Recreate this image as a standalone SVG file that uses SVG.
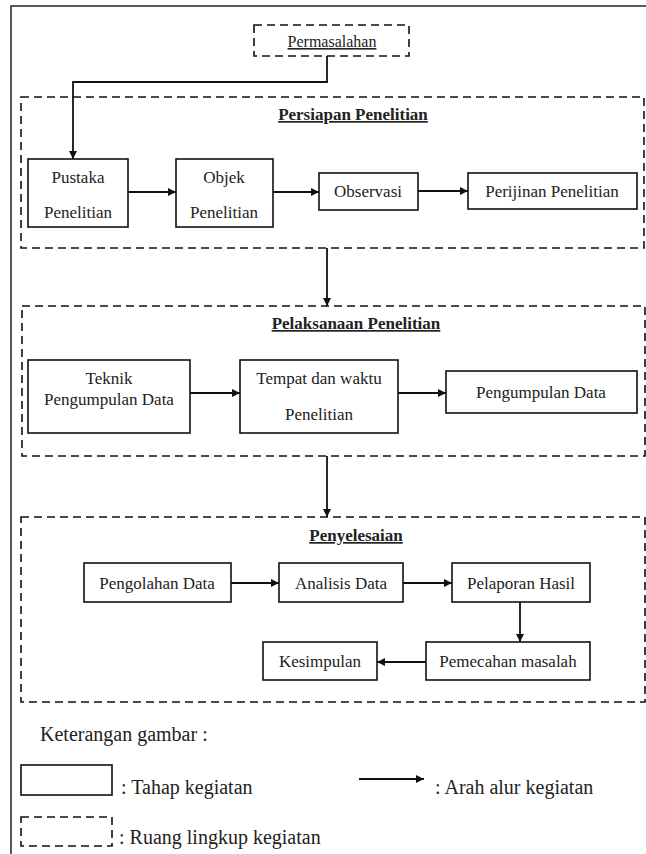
<svg xmlns="http://www.w3.org/2000/svg" width="646" height="854" viewBox="0 0 646 854">
<defs>
<marker id="ah" viewBox="0 0 10 10" refX="10" refY="5" markerWidth="9" markerHeight="8" markerUnits="userSpaceOnUse" orient="auto">
<path d="M0,0 L10,5 L0,10 z" fill="#111"/>
</marker>
</defs>
<style>
text{font-family:"Liberation Serif","Times New Roman",serif;fill:#222;font-size:17px}
.c{text-anchor:middle}
.h{font-weight:bold;text-decoration:underline}
.box{fill:#fff;stroke:#111;stroke-width:1.6}
.scope{fill:none;stroke:#111;stroke-width:1.6;stroke-dasharray:8 5}
.con{fill:none;stroke:#111;stroke-width:1.8;marker-end:url(#ah)}
.lg{font-size:20px}
</style>
<rect x="0" y="0" width="646" height="854" fill="#fff"/>
<path d="M11,860 V6 H650" fill="none" stroke="#222" stroke-width="1.5"/>

<g id="scope-persiapan">
<rect class="scope" x="21" y="97" width="623" height="151"/>
<text class="c h" x="353" y="120">Persiapan Penelitian</text>
</g>
<g id="scope-pelaksanaan">
<rect class="scope" x="22" y="306" width="623" height="150"/>
<text class="c h" x="356" y="329">Pelaksanaan Penelitian</text>
</g>
<g id="scope-penyelesaian">
<rect class="scope" x="21" y="517" width="624" height="185"/>
<text class="c h" x="356" y="541">Penyelesaian</text>
</g>

<g id="connectors">
<path class="con" d="M327,56 V82 H73 V159"/>
<path class="con" d="M128,192 H176"/>
<path class="con" d="M273,192 H319"/>
<path class="con" d="M418,191 H468"/>
<path class="con" d="M327,248 V306"/>
<path class="con" d="M190,393 H240"/>
<path class="con" d="M398,393 H446"/>
<path class="con" d="M327,456 V517"/>
<path class="con" d="M231,583 H279"/>
<path class="con" d="M403,583 H452"/>
<path class="con" d="M520,602 V642"/>
<path class="con" d="M426,662 H377"/>
</g>

<g id="permasalahan">
<rect class="scope" x="254" y="25" width="155" height="31" fill="none"/>
<text class="c" x="332" y="47" style="text-decoration:underline;font-size:16px">Permasalahan</text>
</g>
<g id="pustaka">
<rect class="box" x="28" y="159" width="100" height="68"/>
<text class="c" x="78" y="183">Pustaka</text>
<text class="c" x="78" y="218">Penelitian</text>
</g>
<g id="objek">
<rect class="box" x="176" y="159" width="97" height="68"/>
<text class="c" x="224" y="183">Objek</text>
<text class="c" x="224" y="218">Penelitian</text>
</g>
<g id="observasi">
<rect class="box" x="319" y="173" width="99" height="37"/>
<text class="c" x="368" y="197">Observasi</text>
</g>
<g id="perijinan">
<rect class="box" x="468" y="173" width="169" height="36"/>
<text class="c" x="552" y="197">Perijinan Penelitian</text>
</g>
<g id="teknik">
<rect class="box" x="28" y="360" width="162" height="73"/>
<text class="c" x="109" y="384">Teknik</text>
<text class="c" x="109" y="405">Pengumpulan Data</text>
</g>
<g id="tempat">
<rect class="box" x="240" y="360" width="158" height="73"/>
<text class="c" x="319" y="384">Tempat dan waktu</text>
<text class="c" x="319" y="420">Penelitian</text>
</g>
<g id="pengumpulan">
<rect class="box" x="446" y="371" width="191" height="42"/>
<text class="c" x="541" y="398">Pengumpulan Data</text>
</g>
<g id="pengolahan">
<rect class="box" x="84" y="563" width="147" height="39"/>
<text class="c" x="157" y="589">Pengolahan Data</text>
</g>
<g id="analisis">
<rect class="box" x="279" y="563" width="124" height="39"/>
<text class="c" x="341" y="589">Analisis Data</text>
</g>
<g id="pelaporan">
<rect class="box" x="452" y="563" width="138" height="39"/>
<text class="c" x="521" y="589">Pelaporan Hasil</text>
</g>
<g id="pemecahan">
<rect class="box" x="426" y="642" width="164" height="38"/>
<text class="c" x="508" y="667">Pemecahan masalah</text>
</g>
<g id="kesimpulan">
<rect class="box" x="263" y="642" width="114" height="38"/>
<text class="c" x="320" y="667">Kesimpulan</text>
</g>

<g id="legend">
<text class="lg" x="40" y="741">Keterangan gambar :</text>
<rect class="box" x="21" y="765" width="91" height="30"/>
<text class="lg" x="121" y="794">: Tahap kegiatan</text>
<path class="con" d="M359,779 H424"/>
<text class="lg" x="435" y="794">: Arah alur kegiatan</text>
<rect class="scope" x="21" y="817" width="91" height="29"/>
<text class="lg" x="119" y="844">: Ruang lingkup kegiatan</text>
</g>
</svg>
